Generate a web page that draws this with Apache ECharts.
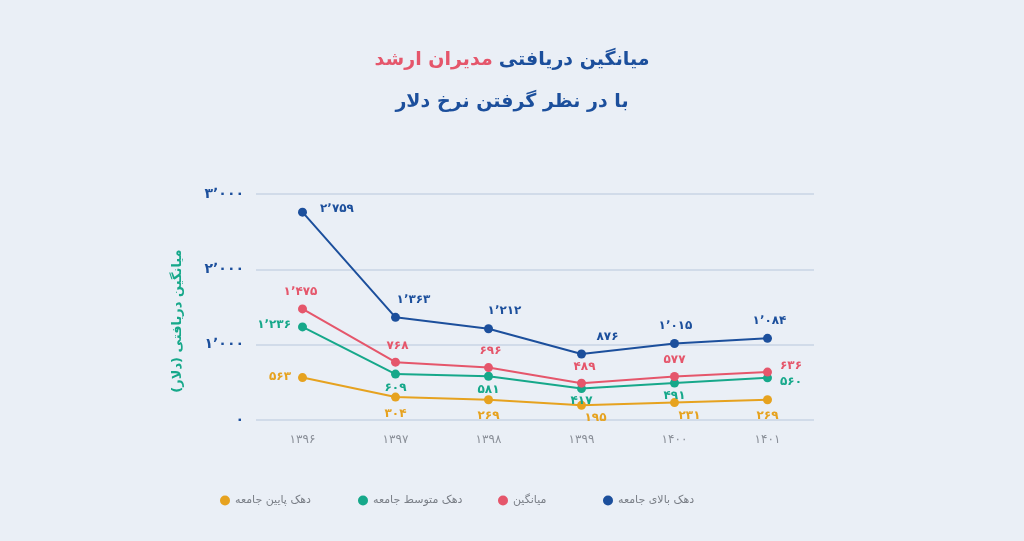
<!DOCTYPE html>
<html><head><meta charset="utf-8">
<script src="https://cdn.jsdelivr.net/npm/echarts@6/dist/echarts.min.js"></script>
<style>html,body{margin:0;padding:0;background:#eaeff6}#c{width:1024px;height:541px}</style>
</head><body><div id="c"></div>
<script>
const categories = ['۱۳۹۶','۱۳۹۷','۱۳۹۸','۱۳۹۹','۱۴۰۰','۱۴۰۱'];
const seriesNames = ['دهک بالای جامعه','میانگین','دهک متوسط جامعه','دهک پایین جامعه'];
const topDecile = [2759, 1363, 1212, 876, 1015, 1084];
const averageAll = [1475, 768, 696, 489, 577, 636];
const middleDecile = [1236, 609, 581, 417, 491, 560];
const lowDecile = [563, 304, 269, 195, 231, 269];
const yTicks = [0, 1000, 2000, 3000];
const titleMain = 'میانگین دریافتی';
const titleRed = 'مدیران ارشد';
const titleSub = 'با در نظر گرفتن نرخ دلار';
const yAxisName = 'میانگین دریافتی (دلار)';

const FONT = 'DejaVu Sans';
const colors = ['#1c4f9c', '#e5566b', '#16a88a', '#e6a21f'];
const faDigits = '۰۱۲۳۴۵۶۷۸۹';
function toFa(n) {
  let s = String(Math.round(n));
  if (s.length > 3) s = s.slice(0, s.length - 3) + '٬' + s.slice(-3);
  return s.replace(/[0-9]/g, d => faDigits[+d]);
}
// label placement per point (style only)
const labelPlace = [
  [['right',[8,-3]],['top',[18,-2]],['top',[16,-2]],['top',[26,-2]],['top',[1,-2]],['top',[2,-2]]],
  [['top',[-2,-2]],['top',[2,-1]],['top',[2,-1]],['top',[3,-1]],['top',[0,-1]],['right',[3,-6]]],
  [['left',[-2,-2]],['bottom',[0,-2]],['bottom',[0,-2]],['bottom',[0,-3]],['bottom',[0,-3]],['right',[3,4]]],
  [['left',[-2,-1]],['bottom',[0,1]],['bottom',[0,1]],['bottom',[14,-3]],['bottom',[15,-2]],['bottom',[0,1]]]
];
const allValues = [topDecile, averageAll, middleDecile, lowDecile];

const series = allValues.map((vals, si) => ({
  name: seriesNames[si],
  type: 'line',
  symbol: 'circle',
  symbolSize: 9,
  z: 10 - si,
  lineStyle: { width: 2, color: colors[si] },
  itemStyle: { color: colors[si] },
  label: { show: true, color: colors[si], fontFamily: FONT, fontSize: 12, fontWeight: 'bold',
           formatter: p => toFa(p.value) },
  data: vals.map((v, i) => ({ value: v, label: { position: labelPlace[si][i][0], offset: labelPlace[si][i][1] } }))
}));

const legendLefts = [598, 493, 353, 215];
const legends = seriesNames.map((n, i) => ({
  data: [n], left: legendLefts[i], top: 490, icon: 'circle', itemWidth: 10, itemHeight: 10, itemGap: 6,
  textStyle: { color: '#7a7f87', fontFamily: FONT, fontSize: 11 }, selectedMode: false
}));

const chart = echarts.init(document.getElementById('c'));
chart.setOption({
  backgroundColor: '#eaeff6',
  animation: false,
  title: [
    { text: '{r|' + titleRed + '}{b|' + titleMain + '}', left: 'center', top: 46,
      textStyle: { rich: {
        r: { color: '#e5566b', fontSize: 19, fontWeight: 'bold', fontFamily: FONT, padding: [0, 6, 0, 0] },
        b: { color: '#1c4f9c', fontSize: 19, fontWeight: 'bold', fontFamily: FONT }
      } } },
    { text: titleSub, left: 'center', top: 88,
      textStyle: { color: '#1c4f9c', fontSize: 19, fontWeight: 'bold', fontFamily: FONT } }
  ],
  legend: legends,
  grid: { left: 256, right: 210, top: 194, bottom: 121 },
  xAxis: {
    type: 'category', data: categories, boundaryGap: true,
    axisLine: { show: false }, axisTick: { show: false },
    axisLabel: { color: '#8a8f98', fontFamily: FONT, fontSize: 12, margin: 14 }
  },
  yAxis: {
    type: 'value', min: yTicks[0], max: yTicks[yTicks.length - 1], interval: 1000,
    axisLine: { show: false }, axisTick: { show: false },
    axisLabel: { color: '#1c4f9c', fontFamily: FONT, fontSize: 14, fontWeight: 'bold', margin: 12,
                 formatter: v => toFa(v) },
    splitLine: { lineStyle: { color: '#c9d5e5', width: 1.5 } }
  },
  graphic: [{
    type: 'text', x: 178, y: 321, rotation: Math.PI / 2,
    style: { text: yAxisName, fill: '#16a88a', font: 'bold 13px "' + FONT + '"', textAlign: 'center', textVerticalAlign: 'middle' }
  }],
  series: series
});
</script></body></html>
